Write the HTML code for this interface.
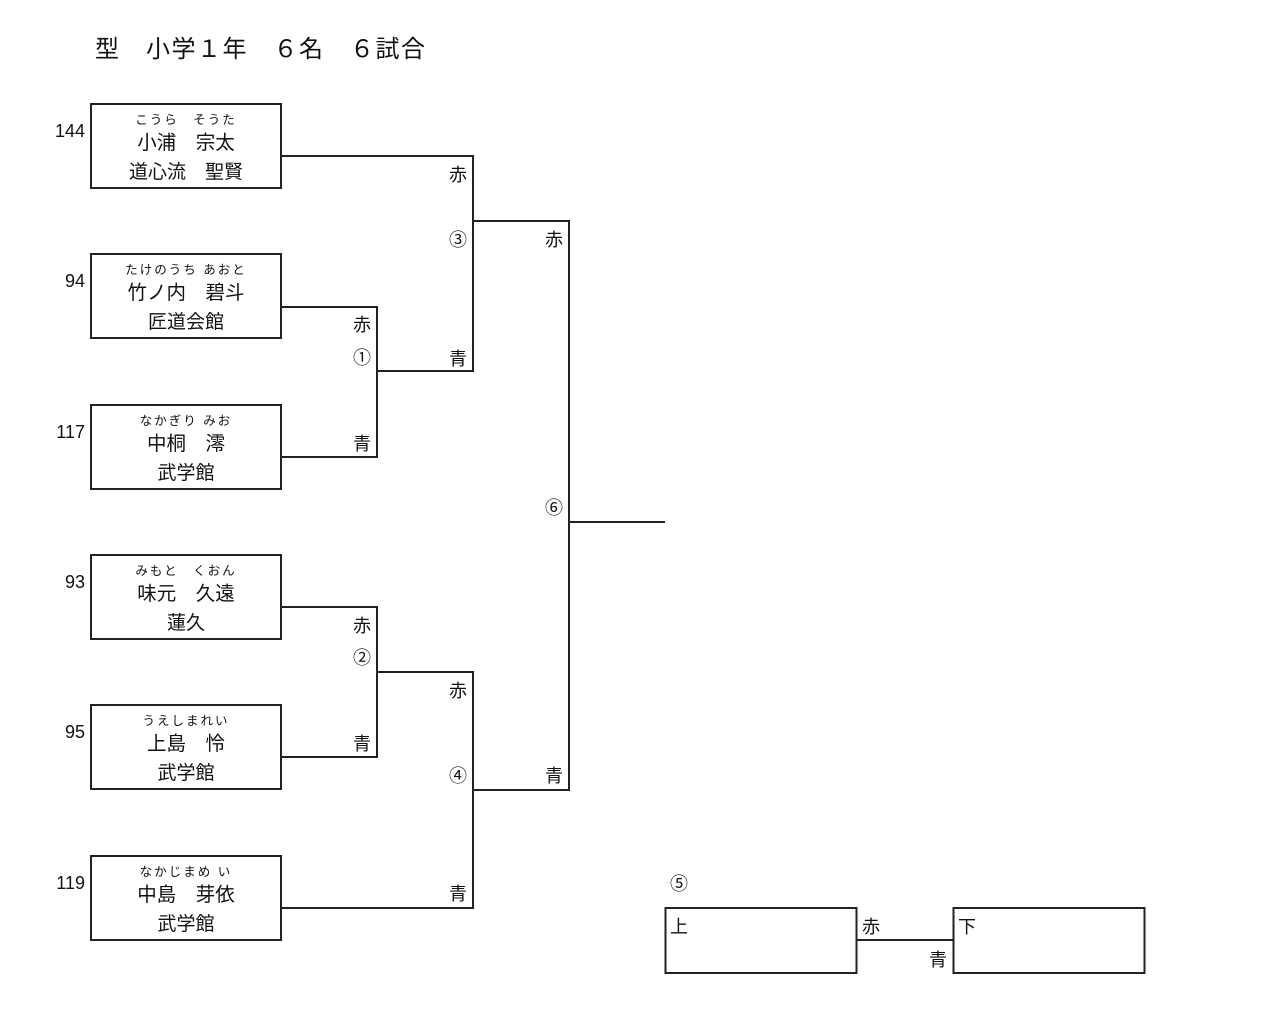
<!DOCTYPE html>
<html><head><meta charset="utf-8"><style>
body{margin:0;width:1266px;height:1022px;background:#fff;position:relative;font-family:"Liberation Sans","Noto Sans CJK JP",sans-serif;color:#111;overflow:hidden}
.b{position:absolute;left:90px;width:188px;height:82px;border:2px solid #222;}
.f{position:absolute;left:0;right:0;top:8px;text-align:center;font-size:12.5px;line-height:14px;letter-spacing:2px}
.n{position:absolute;left:0;right:0;top:26px;text-align:center;font-size:19.5px;line-height:24px}
.d{position:absolute;left:0;right:0;top:56px;text-align:center;font-size:19px;line-height:24px}
.num{position:absolute;right:1181px;font-size:18px;line-height:22px}
.l{position:absolute;font-size:18px;line-height:22px;width:30px;margin-left:-15px;text-align:center;margin-top:-10px}
</style></head><body>
<div style="position:absolute;left:95px;top:35px;font-size:24px;line-height:30px;letter-spacing:1.5px">型　小学１年　６名　６試合</div>

<div class="num" style="top:120px">144</div>
<div class="b" style="top:103px"><div class="f">こうら　そうた</div><div class="n">小浦　宗太</div><div class="d">道心流　聖賢</div></div>
<div class="num" style="top:270px">94</div>
<div class="b" style="top:253px"><div class="f">たけのうち あおと</div><div class="n">竹ノ内　碧斗</div><div class="d">匠道会館</div></div>
<div class="num" style="top:421px">117</div>
<div class="b" style="top:404px"><div class="f">なかぎり みお</div><div class="n">中桐　澪</div><div class="d">武学館</div></div>
<div class="num" style="top:571px">93</div>
<div class="b" style="top:554px"><div class="f">みもと　くおん</div><div class="n">味元　久遠</div><div class="d">蓮久</div></div>
<div class="num" style="top:721px">95</div>
<div class="b" style="top:704px"><div class="f">うえしまれい</div><div class="n">上島　怜</div><div class="d">武学館</div></div>
<div class="num" style="top:872px">119</div>
<div class="b" style="top:855px"><div class="f">なかじまめ い</div><div class="n">中島　芽依</div><div class="d">武学館</div></div>

<svg width="1266" height="1022" style="position:absolute;left:0;top:0" fill="none" stroke="#222" stroke-width="2">
<polyline points="282,156 473,156 473,371 377,371"/>
<polyline points="282,307 377,307 377,457 282,457"/>
<polyline points="473,221 569,221 569,790 473,790"/>
<polyline points="282,607 377,607 377,757 282,757"/>
<polyline points="377,672 473,672 473,908 282,908"/>
<line x1="569" y1="522" x2="665" y2="522"/>
<rect x="665.5" y="908" width="191" height="65"/>
<rect x="953.5" y="908" width="191" height="65"/>
<line x1="857" y1="940" x2="953" y2="940"/>
</svg>

<div class="l" style="left:458px;top:174px">赤</div>
<div class="l" style="left:458px;top:239px">③</div>
<div class="l" style="left:458px;top:358px">青</div>
<div class="l" style="left:362px;top:324px">赤</div>
<div class="l" style="left:362px;top:357px">①</div>
<div class="l" style="left:362px;top:443px">青</div>
<div class="l" style="left:554px;top:239px">赤</div>
<div class="l" style="left:554px;top:507px">⑥</div>
<div class="l" style="left:554px;top:775px">青</div>
<div class="l" style="left:362px;top:625px">赤</div>
<div class="l" style="left:362px;top:657px">②</div>
<div class="l" style="left:362px;top:743px">青</div>
<div class="l" style="left:458px;top:690px">赤</div>
<div class="l" style="left:458px;top:775px">④</div>
<div class="l" style="left:458px;top:893px">青</div>
<div class="l" style="left:679px;top:883px">⑤</div>
<div class="l" style="left:871px;top:926px">赤</div>
<div class="l" style="left:938px;top:959px">青</div>
<div class="l" style="left:679px;top:926px">上</div>
<div class="l" style="left:967px;top:926px">下</div>
</body></html>
